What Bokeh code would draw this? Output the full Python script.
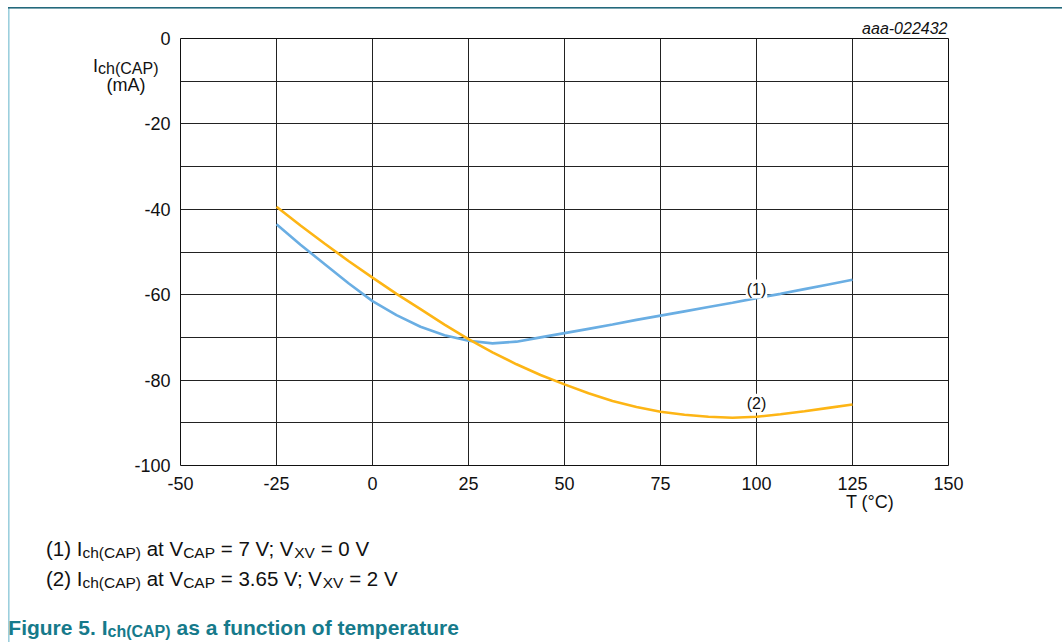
from bokeh.plotting import figure
from bokeh.models import Range1d, FixedTicker, Label
from bokeh.layouts import column, row
from bokeh.embed import file_html
from bokeh.resources import INLINE

# ---------------- data ----------------
temp = [-25, -18.75, -12.5, -6.25, 0, 6.25, 12.5, 18.75, 25, 31.25, 37.5, 43.75, 50,
        56.25, 62.5, 68.75, 75, 81.25, 87.5, 93.75, 100, 106.25, 112.5, 118.75, 125]
ich_1 = [-43.5, -48.3, -52.8, -57.3, -61.5, -64.8, -67.5, -69.5, -70.8, -71.4, -71.0, -70.0, -69.0,
         -68.0, -67.0, -65.9, -64.9, -63.9, -62.9, -61.9, -60.8, -59.8, -58.7, -57.6, -56.5]
ich_2 = [-39.4, -43.8, -48.0, -52.1, -56.0, -59.8, -63.4, -67.0, -70.4, -73.5, -76.3, -78.8, -81.0,
         -83.1, -84.9, -86.3, -87.4, -88.1, -88.6, -88.8, -88.6, -88.0, -87.3, -86.5, -85.7]
x_ticks = [-50, -25, 0, 25, 50, 75, 100, 125, 150]
y_ticks = [-100, -80, -60, -40, -20, 0]
y_minor = [-90, -70, -50, -30, -10]
curve_labels = ["(1)", "(2)"]
label_at_t = 100

FONT = "Liberation Sans"
W, H = 1062, 642
MAIN_W, MAIN_H = W, 525          # main plot: page y 0..525
NOTES_H = H - MAIN_H             # notes area: page y 525..642
FL, FR, FT, FB = 180, W - 948, 38, MAIN_H - 465
BL = -5.5                        # baseline correction for alphabetic labels
TEAL_DARK, TEAL_LIGHT = "#23697c", "#9ccfdd"

# ---------- main plot ----------
p = figure(width=MAIN_W, height=MAIN_H, output_backend="svg", toolbar_location=None,
           x_range=Range1d(x_ticks[0], x_ticks[-1]), y_range=Range1d(y_ticks[0], y_ticks[-1]),
           min_border_left=FL, min_border_right=FR, min_border_top=FT, min_border_bottom=FB)
p.background_fill_color = "white"
p.border_fill_color = None
p.outline_line_color = "#111111"
p.outline_line_width = 1

p.xaxis.ticker = FixedTicker(ticks=x_ticks)
p.yaxis.ticker = FixedTicker(ticks=y_ticks, minor_ticks=y_minor)
p.xaxis.major_label_overrides = {t: str(t) for t in x_ticks}
p.yaxis.major_label_overrides = {t: str(t) for t in y_ticks}
for ax in (p.xaxis, p.yaxis):
    ax.axis_line_color = None
    ax.major_tick_line_color = None
    ax.minor_tick_line_color = None
    ax.major_tick_out = 0
    ax.major_tick_in = 0
    ax.minor_tick_out = 0
    ax.major_label_text_font = FONT
    ax.major_label_text_font_size = "18px"
    ax.major_label_text_color = "#111111"
p.xaxis.major_label_standoff = 11
p.yaxis.major_label_standoff = 10

p.xgrid.grid_line_color = "#222222"
p.ygrid.grid_line_color = "#222222"
p.ygrid.minor_grid_line_color = "#222222"

p.line(temp, ich_1, line_color="#6aaee3", line_width=2.6)
p.line(temp, ich_2, line_color="#fdb515", line_width=2.6)

y1 = ich_1[temp.index(label_at_t)]
y2 = ich_2[temp.index(label_at_t)]
for txt, yv, off in ((curve_labels[0], y1, 9.0), (curve_labels[1], y2, 13.5)):
    p.add_layout(Label(x=label_at_t, y=yv, y_offset=off, text=txt, text_font=FONT,
                       text_font_size="16px", text_color="#111111", text_align="center",
                       text_baseline="middle", background_fill_color="white", padding=1))

# ---------- text helpers ----------
ARIAL = {' ': 278, '(': 333, ')': 333, '0': 556, '1': 556, '2': 556, '3': 556, '5': 556,
         '6': 556, '7': 556, '.': 278, ';': 278, '=': 584, 'I': 278, 'V': 667, 'C': 722,
         'A': 667, 'P': 667, 'X': 667, 'c': 500, 'h': 556, 'a': 556, 't': 278}
ARIAL_B = {'F': 611, 'i': 278, 'g': 611, 'u': 611, 'r': 389, 'e': 556, ' ': 278, '5': 556,
           '.': 278, 'I': 278, 'c': 556, 'h': 611, '(': 333, 'C': 722, 'A': 722, 'P': 667,
           ')': 333, 'a': 556, 's': 556, 'f': 333, 'n': 611, 't': 333, 'o': 611, 'm': 889,
           'p': 611}

def width(s, size, bold=False):
    tab = ARIAL_B if bold else ARIAL
    return sum(tab.get(ch, 556) for ch in s) * size / 1000.0

def put(fig, place, text, px, py, size, color="#111111", bold=False, italic=False,
        align="left", units="data"):
    style = "bold" if bold else ("italic" if italic else "normal")
    lab = Label(x=px, y=py + BL, x_units=units, y_units=units, text=text,
                text_font=FONT, text_font_size=f"{size}px", text_color=color,
                text_font_style=style, text_align=align, text_baseline="alphabetic")
    if place is None:
        fig.add_layout(lab)
    else:
        fig.add_layout(lab, place)

def rich(fig, place, pieces, px, py, main, sub, sub_drop, color="#111111", bold=False,
         units="data"):
    cur = px
    for txt, is_sub in pieces:
        size = sub if is_sub else main
        lead = len(txt) - len(txt.lstrip(' '))
        body = txt.strip(' ')
        x0 = cur + width(' ' * lead, size, bold)
        if body:
            put(fig, place, body, x0, py + (sub_drop if is_sub else 0), size, color, bold,
                units=units)
        cur += width(txt, size, bold)

# titles of the main plot, drawn in its side panels (page px = canvas px here)
rich(p, "left", [("I", False), ("ch(CAP)", True)], 92.5, 70.5, 18, 16, 3, units="canvas")
put(p, "left", "(mA)", 125.5, 89.5, 18, align="center", units="canvas")
put(p, "below", "T (°C)", 869.5, 506.5, 18, align="center", units="canvas")
put(p, "above", "aaa-022432", 947, 33, 16, italic=True, align="right", units="canvas")

# ---------- notes + caption (y measured from the notes area top) ----------
notes = figure(width=W, height=NOTES_H, output_backend="svg", toolbar_location=None,
               x_range=Range1d(0, W), y_range=Range1d(NOTES_H, 0),
               x_axis_location=None, y_axis_location=None,
               min_border=0, min_border_left=0, min_border_right=0,
               min_border_top=0, min_border_bottom=0)
notes.outline_line_color = None
notes.grid.visible = False
notes.background_fill_color = None
notes.border_fill_color = None
Y0 = MAIN_H
rich(notes, None, [("(1) I", False), ("ch(CAP)", True), (" at V", False), ("CAP", True),
                   (" = 7 V; V", False), ("XV", True), (" = 0 V", False)],
     45.5, 553.5 - Y0, 20.5, 15.5, 4)
rich(notes, None, [("(2) I", False), ("ch(CAP)", True), (" at V", False), ("CAP", True),
                   (" = 3.65 V; V", False), ("XV", True), (" = 2 V", False)],
     45.5, 583 - Y0, 20.5, 15.5, 4)
rich(notes, None, [("Figure 5. I", False), ("ch(CAP)", True),
                   (" as a function of temperature", False)],
     7.8, 632 - Y0, 21, 16, 4, color="#167a8b", bold=True)

# document frame lines (top dark teal, left light teal) as page background
frame_css = {
    "background-color": "white",
    "background-image": f"linear-gradient({TEAL_DARK}, {TEAL_DARK}), "
                        f"linear-gradient({TEAL_LIGHT}, {TEAL_LIGHT})",
    "background-size": "calc(100% - 8px) 1.6px, 1.6px calc(100% - 6.5px)",
    "background-position": "8px 6.5px, 7.5px 6.5px",
    "background-repeat": "no-repeat",
}
# each plot wrapped in its own row so that the column does not align their frames
layout = column(row(p, spacing=0), row(notes, spacing=0), spacing=0, styles=frame_css)
open("out.html", "w").write(file_html(layout, INLINE))
